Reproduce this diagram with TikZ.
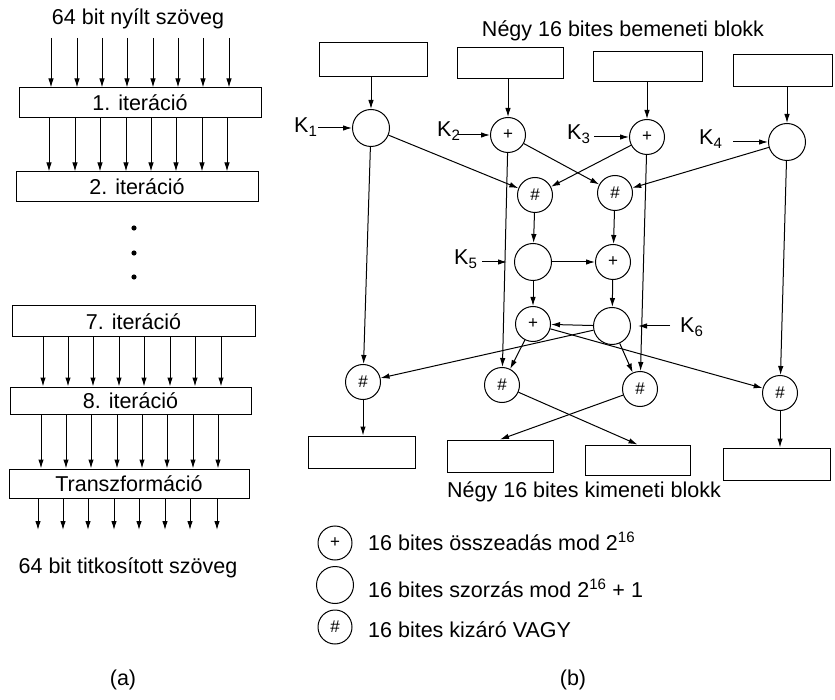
\documentclass[tikz,border=0pt]{standalone}
\usepackage{fontspec}
\setmainfont{Liberation Sans}
\usetikzlibrary{arrows.meta,calc}
\newcommand{\mainfs}{\fontsize{21.5}{25}\selectfont}
\newcommand{\opfs}{\fontsize{17}{17}\selectfont}
\tikzset{
  arr/.style={-{Latex[length=9pt,width=5.5pt]}, line width=1pt},
  ln/.style={line width=1pt},
  blk/.style={draw, line width=1pt, inner sep=0pt},
  op/.style={circle, draw, line width=1pt, minimum size=35pt, inner sep=0pt, font=\opfs},
  mul/.style={op, minimum size=37pt},
  lbl/.style={font=\mainfs, inner sep=0pt},
}
\begin{document}
\begin{tikzpicture}[x=1pt,y=-1pt]
\useasboundingbox (0,0) rectangle (835,700);
\fill[white] (0,0) rectangle (835,700);

% ---------------- (a) ----------------
\node[lbl, anchor=base] (ttop) at (138,25) {64 bit nyílt szöveg};
\node[blk, minimum width=242pt, minimum height=30pt, font=\mainfs] (b1) at (140,103) {1. iteráció};
\node[blk, minimum width=242pt, minimum height=30pt, font=\mainfs] (b2) at (137,187) {2. iteráció};
\node[blk, minimum width=243pt, minimum height=31pt, font=\mainfs] (b7) at (133.5,321.5) {7. iteráció};
\node[blk, minimum width=241pt, minimum height=27pt, font=\mainfs] (b8) at (130.5,400.5) {8. iteráció};
\node[blk, minimum width=240pt, minimum height=29pt, font=\mainfs] (bt) at (129,483.5) {Transzformáció};
\node[lbl, anchor=base] (tbot) at (128,573) {64 bit titkosított szöveg};
\node[lbl] (la) at (123,680) {(a)};

\foreach \x [count=\i] in {51,77,102,127,153,178,203,229}{
  \coordinate (ga\i) at (\x,38);
  \draw[arr] (ga\i) -- (ga\i |- b1.north);
}
\foreach \x [count=\i] in {49,75,100,126,151,176,202,227}{
  \coordinate (gb\i) at (\x,0);
  \draw[arr] (gb\i |- b1.south) -- (gb\i |- b2.north);
}
\foreach \x [count=\i] in {43,68,93,119,144,170,195,221}{
  \coordinate (gc\i) at (\x,0);
  \draw[arr] (gc\i |- b7.south) -- (gc\i |- b8.north);
}
\foreach \x [count=\i] in {41,66,91,117,142,167,193,218}{
  \coordinate (gd\i) at (\x,0);
  \draw[arr] (gd\i |- b8.south) -- (gd\i |- bt.north);
}
\foreach \x [count=\i] in {38,63,88,114,139,165,190,217}{
  \coordinate (ge\i) at (\x,530);
  \draw[arr] (ge\i |- bt.south) -- (ge\i);
}
\foreach \y [count=\i] in {228,253,277}{
  \fill (134,\y) circle (2.6pt);
}

% ---------------- (b) ----------------
\node[lbl, anchor=base] (tin) at (623,37) {Négy 16 bites bemeneti blokk};
\node[blk, minimum width=108pt, minimum height=34pt] (inA) at (373,60) {};
\node[blk, minimum width=106pt, minimum height=31pt] (inB) at (510,63) {};
\node[blk, minimum width=109pt, minimum height=30pt] (inC) at (647.5,67) {};
\node[blk, minimum width=99pt, minimum height=32pt] (inD) at (782.5,71) {};

\node[mul] (M1) at (371,128) {};
\node[op]  (A2) at (508,135) {+};
\node[op]  (A3) at (647,137) {+};
\node[mul] (M4) at (787,142) {};
\node[op]  (X1) at (535,195) {\#};
\node[op]  (X2) at (615,193) {\#};
\node[mul] (M5) at (533,262) {};
\node[op]  (A6) at (613,262) {+};
\node[op]  (A7) at (533,324) {+};
\node[mul] (M6) at (612,326) {};
\node[op]  (X3) at (363,382) {\#};
\node[op]  (X4) at (502,385) {\#};
\node[op]  (X5) at (640,389) {\#};
\node[op]  (X6) at (780,393) {\#};

\node[blk, minimum width=107pt, minimum height=32pt] (O1) at (361.5,452) {};
\node[blk, minimum width=106pt, minimum height=32pt] (O2) at (500,456) {};
\node[blk, minimum width=105pt, minimum height=30pt] (O3) at (637.5,460) {};
\node[blk, minimum width=107pt, minimum height=32pt] (O4) at (776.5,464) {};
\node[lbl, anchor=base] (tout) at (584,497) {Négy 16 bites kimeneti blokk};

% key labels
\node[lbl, anchor=base west] (K1) at (294,133) {K\textsubscript{1}};
\node[lbl, anchor=base west] (K2) at (437,137) {K\textsubscript{2}};
\node[lbl, anchor=base west] (K3) at (567,140) {K\textsubscript{3}};
\node[lbl, anchor=base west] (K4) at (699,145) {K\textsubscript{4}};
\node[lbl, anchor=base west] (K5) at (454,265) {K\textsubscript{5}};
\node[lbl, anchor=base west] (K6) at (680,333) {K\textsubscript{6}};
\coordinate (k1) at (318,128);
\coordinate (k2) at (458,135);
\coordinate (k3) at (594,137);
\coordinate (k4) at (733,142);
\coordinate (k5) at (482,262);
\coordinate (k6) at (670,326);
\draw[arr] (k1) -- (M1.west);
\draw[arr] (k2) -- (A2.west);
\draw[arr] (k3) -- (A3.west);
\draw[arr] (k4) -- (M4.west);
\draw[arr, shorten >=7pt] (k5) -- (M5.west);
\draw[arr, shorten >=7pt] (k6) -- (M6.east);

% inputs
\draw[arr] (M1 |- inA.south) -- (M1.north);
\draw[arr] (A2 |- inB.south) -- (A2.north);
\draw[arr] (A3 |- inC.south) -- (A3.north);
\draw[arr] (M4 |- inD.south) -- (M4.north);

% first layer
\draw[arr] (M1) -- (X1);
\draw[arr] (A3) -- (X1);
\draw[arr] (A2) -- (X2);
\draw[arr] (M4) -- (X2);
\draw[arr] (M1) -- (X3);
\draw[arr] (A2) -- (X4);
\draw[arr] (A3) -- (X5);
\draw[arr] (M4) -- (X6);

% MA structure
\draw[arr] (X1) -- (M5);
\draw[arr] (X2) -- (A6);
\draw[arr] (M5) -- (A6);
\draw[arr] (M5) -- (A7);
\draw[arr] (A6) -- (M6);
\draw[arr] (M6) -- (A7);
\draw[arr] (A7) -- (X4);
\draw[arr] (M6) -- (X5);
\draw[arr] (M6) -- (X3);
\draw[arr] (A7) -- (X6);

% outputs
\draw[arr] (X3.south) -- (X3 |- O1.north);
\draw[arr] (X4) -- (O3.north);
\draw[arr] (X5) -- (O2.north);
\draw[arr] (X6.south) -- (X6 |- O4.north);

% legend
\node[op, minimum size=34pt] (L1) at (335,543) {+};
\node[mul] (L2) at (335,585) {};
\node[op, minimum size=34pt] (L3) at (335,627) {\#};
\node[lbl, anchor=base west] (T1) at (368,550) {16 bites összeadás mod 2\textsuperscript{16}};
\node[lbl, anchor=base west] (T2) at (368,597) {16 bites szorzás mod 2\textsuperscript{16} + 1};
\node[lbl, anchor=base west] (T3) at (368,637) {16 bites kizáró VAGY};
\node[lbl] (lb) at (573,680) {(b)};
\end{tikzpicture}
\end{document}
